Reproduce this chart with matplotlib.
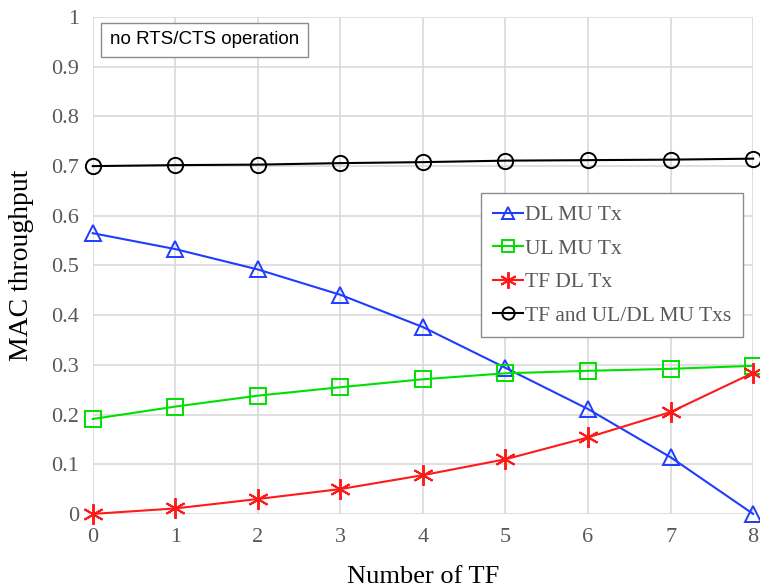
import matplotlib.pyplot as plt
import numpy as np

plt.rcParams['font.family'] = ['Liberation Serif', 'DejaVu Serif']

# données
nb_tf = [0, 1, 2, 3, 4, 5, 6, 7, 8]
dl_mu = [0.565, 0.533, 0.492, 0.441, 0.376, 0.294, 0.211, 0.114, 0.0]
ul_mu = [0.191, 0.216, 0.238, 0.255, 0.271, 0.283, 0.288, 0.292, 0.298]
tf_dl = [0.0, 0.011, 0.030, 0.050, 0.078, 0.110, 0.154, 0.205, 0.284]
total = [0.700, 0.702, 0.703, 0.706, 0.708, 0.711, 0.712, 0.713, 0.715]

series = [
    (dl_mu, 'DL MU Tx', '#1f3cff', '^', 11),
    (ul_mu, 'UL MU Tx', '#00e000', 's', 11),
    (tf_dl, 'TF DL Tx', '#ff1a1a', (6, 2, 0), 15),
    (total, 'TF and UL/DL MU Txs', 'black', 'o', 11),
]

fig = plt.figure(figsize=(7.6, 5.88), dpi=100)
ax = fig.add_axes([0.122, 0.126, 0.869, 0.845])

for vals, label, color, marker, ms in series:
    ax.plot(nb_tf, vals, color=color, lw=1.5, marker=marker, markersize=ms,
            markerfacecolor='none', markeredgecolor=color, markeredgewidth=1.4,
            label=label, clip_on=False, zorder=3)

ax.set_xlim(0, 8)
ax.set_ylim(0, 1)
ax.set_xticks(range(9))
ax.set_yticks(np.arange(0, 1.01, 0.1))
ax.set_yticklabels(['0'] + [f'{v:.1f}' for v in np.arange(0.1, 0.95, 0.1)] + ['1'])
ax.tick_params(length=0, labelsize=16, labelcolor='#595959', pad=10)
ax.grid(True, color='#d9d9d9', lw=1.2)
ax.set_axisbelow(True)
for s in ax.spines.values():
    s.set_visible(False)

ax.set_xlabel('Number of TF', fontsize=19, labelpad=14)
ax.set_ylabel('MAC throughput', fontsize=20, labelpad=12)

leg = ax.legend(loc='upper left', bbox_to_anchor=(0.588, 0.645), fontsize=15.5,
                handlelength=1.4, handletextpad=0.1, labelspacing=0.62,
                fancybox=False, edgecolor='#8c8c8c', framealpha=1,
                borderpad=0.55, borderaxespad=0, labelcolor='#595959')
leg.get_frame().set_linewidth(1.0)
for h, (_, _, _, _, ms) in zip(leg.legend_handles, series):
    h.set_markersize(ms * 0.8)

ax.text(0.026, 0.954, 'no RTS/CTS operation', transform=ax.transAxes,
        fontsize=13.5, family='Liberation Sans', va='center', ha='left',
        bbox=dict(boxstyle='square,pad=0.45', fc='white', ec='#8c8c8c', lw=1.0))

fig.savefig('out.png', dpi=100)
